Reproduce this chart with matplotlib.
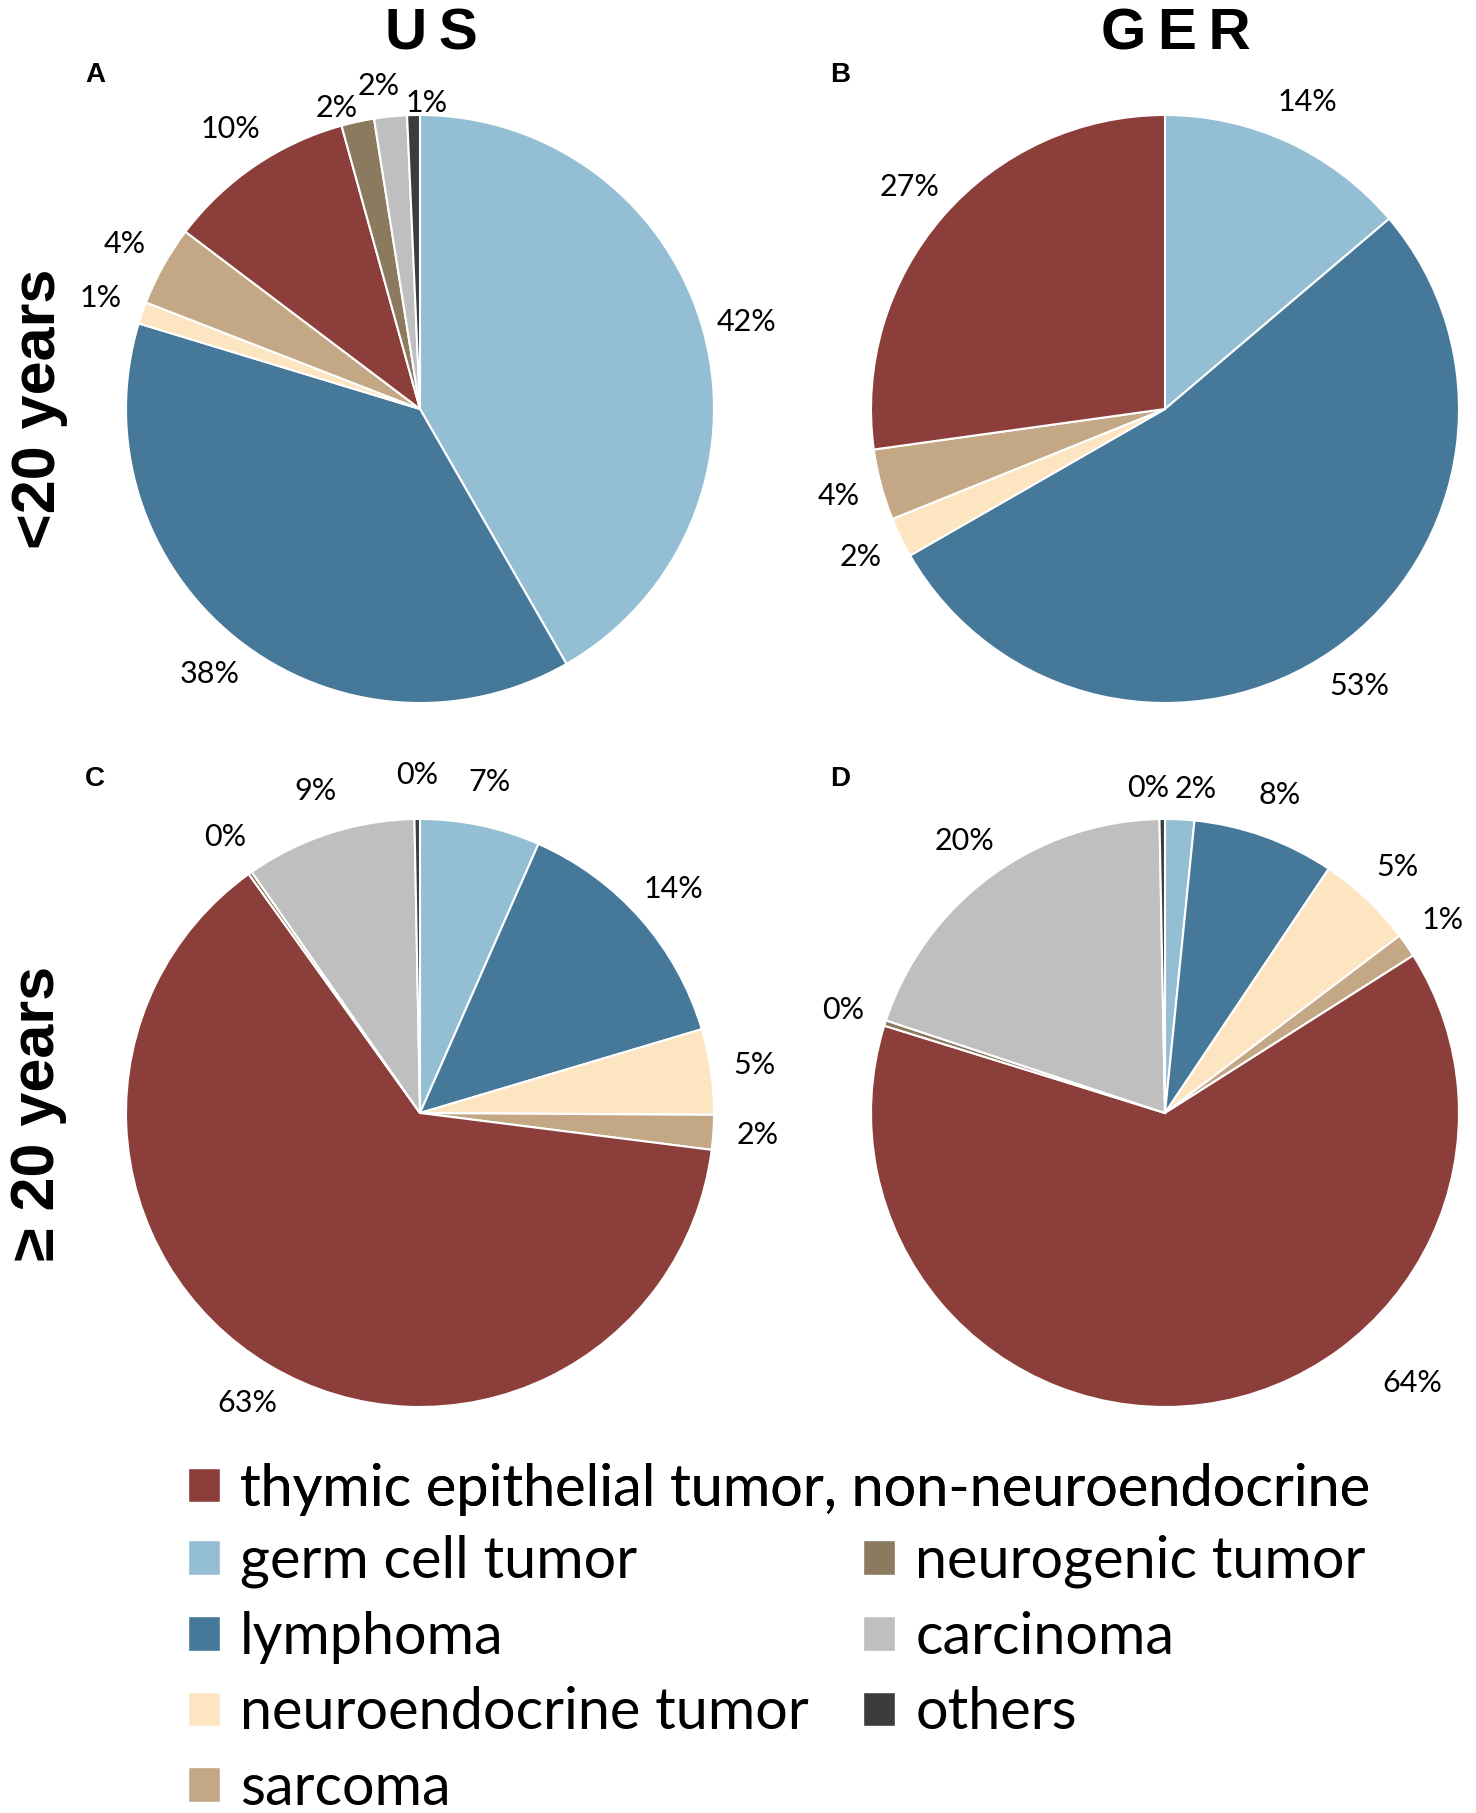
import matplotlib.pyplot as plt
from matplotlib.patches import Patch

# slice order, clockwise from 12 o'clock
slices = ["germ cell tumor", "lymphoma", "neuroendocrine tumor", "sarcoma",
          "thymic epithelial tumor, non-neuroendocrine", "neurogenic tumor",
          "carcinoma", "others"]
slice_colors = ["#93BED4", "#467899", "#FDE5C2", "#C4A886",
                "#8B3E3A", "#8C7A5E", "#BFBFBF", "#3C3C3C"]

# percentages
us_young = [41.7, 38.0, 1.2, 4.4, 10.4, 1.8, 1.8, 0.7]
ger_young = [13.8, 52.9, 2.2, 3.9, 27.2, 0.0, 0.0, 0.0]
us_adult = [6.6, 13.8, 4.7, 1.9, 63.1, 0.2, 9.4, 0.3]
ger_adult = [1.6, 7.8, 5.3, 1.3, 63.8, 0.3, 19.6, 0.3]

legend_order = [4, 0, 1, 2, 3, 5, 6, 7]

# label nudges (radius units) where labels would collide
nudges = {
    ("A", 5): (-0.04, -0.10),
    ("A", 6): (-0.024, -0.047),
    ("A", 7): (0.047, -0.11),
    ("D", 0): (0.047, -0.045),
    ("D", 7): (-0.045, -0.045),
    ("D", 4): (0.69, 0.22),
}

W, H = 1476, 1813
fig = plt.figure(figsize=(W / 100, H / 100), dpi=100)

pct_font = "Lato"
R = 294
panels = [
    ("A", us_young, 420, 409),
    ("B", ger_young, 1165, 409),
    ("C", us_adult, 420, 1113),
    ("D", ger_adult, 1165, 1113),
]

for name, vals, cx, cy in panels:
    ax = fig.add_axes([(cx - R) / W, 1 - (cy + R) / H, 2 * R / W, 2 * R / H])
    idx = [i for i, v in enumerate(vals) if v > 0]
    wedges, _, autotexts = ax.pie(
        [vals[i] for i in idx],
        colors=[slice_colors[i] for i in idx],
        startangle=90, counterclock=False, radius=1,
        autopct=lambda p: f"{p:.0f}%", pctdistance=1.15,
        wedgeprops=dict(edgecolor="white", linewidth=1.5),
        textprops=dict(fontsize=22, family=pct_font, color="black"),
    )
    for i, t in zip(idx, autotexts):
        dx, dy = nudges.get((name, i), (0, 0))
        x, y = t.get_position()
        t.set_position((x + dx, y + dy))
    ax.set_xlim(-1, 1)
    ax.set_ylim(-1, 1)
    ax.set_aspect("equal")
    ax.axis("off")
    fig.text((cx - 325) / W, 1 - (cy - 334) / H, name, fontsize=20,
             fontweight="bold", family="Liberation Sans", ha="center", va="center")

title_kw = dict(fontsize=42, fontweight="bold", family="Liberation Sans",
                ha="center", va="center")
fig.text(431 / W, 1 - 34 / H, "U\u2009S", **title_kw)
fig.text(1176 / W, 1 - 34 / H, "G\u2009E\u2009R", **title_kw)
row_kw = dict(title_kw, fontsize=44)
fig.text(39 / W, 1 - 409 / H, "<20 years", rotation=90, **row_kw)
fig.text(39 / W, 1 - 1113 / H, "\u2265 20 years", rotation=90, **row_kw)

handles = [Patch(facecolor=slice_colors[i], edgecolor="white") for i in legend_order]
labels = [slices[i] for i in legend_order]
leg_kw = dict(frameon=False, handlelength=0.55, handleheight=0.55,
              handletextpad=0.35, borderpad=0, borderaxespad=0,
              prop=dict(family=pct_font, size=41.5))
leg1 = fig.legend(handles[:1], labels[:1], loc="center left",
                  bbox_to_anchor=(188 / W, 1 - 1489 / H), **leg_kw)
fig.add_artist(leg1)
fig.legend(handles[1:], labels[1:], loc="upper left", ncol=2,
           bbox_to_anchor=(188 / W, 1 - 1535 / H), labelspacing=0.39,
           columnspacing=0.95, **leg_kw)

fig.savefig("out.png", dpi=100)
